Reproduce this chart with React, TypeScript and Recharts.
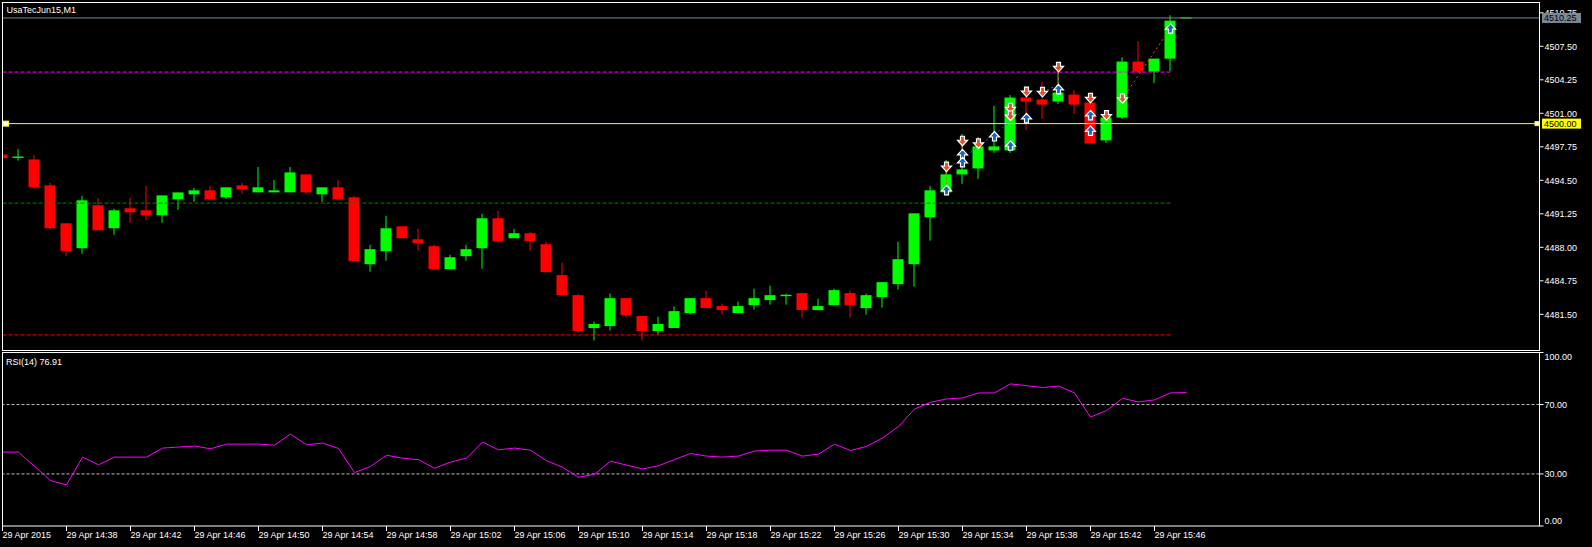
import React from 'react';
import { ComposedChart, Bar, Line, Scatter, XAxis, YAxis, ReferenceLine } from 'recharts';

// one candle per minute, 14:34 .. 15:48
const opens = [
  4496.96, 4496.72, 4496.48, 4493.96, 4490.28, 4487.96, 4492.03, 4489.90, 4491.74, 4491.54,
  4491.15, 4492.70, 4493.19, 4493.48, 4492.90, 4493.96, 4493.38, 4493.38, 4493.38, 4495.03,
  4493.19, 4493.77, 4492.80, 4486.41, 4487.67, 4489.99, 4488.73, 4488.06, 4485.93, 4487.19,
  4487.96, 4490.77, 4488.93, 4489.32, 4488.25, 4485.25, 4483.31, 4480.22, 4480.41, 4483.02,
  4481.28, 4479.93, 4480.22, 4481.67, 4483.02, 4482.25, 4481.67, 4482.44, 4482.93, 4483.31,
  4483.51, 4481.96, 4482.44, 4483.51, 4482.15, 4483.22, 4484.48, 4486.41, 4490.96, 4493.38,
  4495.12, 4495.70, 4497.45, 4497.45, 4502.48, 4502.29, 4502.19, 4502.77, 4502.00, 4498.42,
  4500.64, 4505.97, 4505.09, 4506.35, 4510.25,
];
const highs = [
  4497.00, 4497.54, 4496.96, 4494.25, 4490.28, 4492.99, 4492.80, 4491.74, 4492.80, 4493.96,
  4492.99, 4493.28, 4493.77, 4493.96, 4493.77, 4494.25, 4495.80, 4494.54, 4495.80, 4495.03,
  4493.77, 4494.54, 4492.99, 4488.25, 4491.06, 4489.99, 4489.80, 4488.25, 4487.28, 4488.25,
  4491.25, 4491.54, 4489.80, 4489.51, 4488.54, 4486.51, 4483.51, 4480.80, 4483.51, 4483.02,
  4481.28, 4481.28, 4482.25, 4483.02, 4483.80, 4482.54, 4482.73, 4483.99, 4484.28, 4483.51,
  4483.51, 4483.02, 4483.99, 4483.80, 4483.51, 4484.57, 4488.54, 4491.25, 4493.96, 4496.48,
  4499.00, 4498.71, 4501.71, 4502.77, 4503.35, 4504.03, 4505.09, 4503.26, 4502.58, 4501.22,
  4506.45, 4508.00, 4506.26, 4510.52, 4510.25,
];
const lows = [
  4496.70, 4496.41, 4493.67, 4489.70, 4487.19, 4487.38, 4489.70, 4489.22, 4490.38, 4490.67,
  4490.38, 4491.64, 4492.41, 4492.70, 4492.70, 4493.19, 4493.38, 4493.38, 4493.38, 4493.19,
  4492.41, 4492.70, 4486.70, 4485.64, 4486.70, 4488.93, 4487.67, 4485.93, 4485.93, 4486.70,
  4485.93, 4488.44, 4488.93, 4487.67, 4485.64, 4483.41, 4479.73, 4478.96, 4479.93, 4481.18,
  4478.96, 4479.54, 4480.22, 4481.47, 4482.15, 4481.47, 4481.67, 4481.96, 4482.44, 4482.44,
  4481.18, 4481.96, 4482.44, 4481.18, 4481.47, 4482.15, 4483.90, 4484.19, 4488.64, 4493.38,
  4494.16, 4494.64, 4497.16, 4497.16, 4499.38, 4500.45, 4501.90, 4500.93, 4498.12, 4498.12,
  4500.45, 4505.09, 4503.93, 4505.09, 4510.25,
];
const closes = [
  4496.70, 4496.76, 4493.87, 4489.90, 4487.67, 4492.51, 4489.70, 4491.54, 4491.45, 4491.15,
  4492.99, 4493.28, 4493.48, 4492.70, 4493.77, 4493.67, 4493.77, 4493.48, 4495.22, 4493.38,
  4493.77, 4492.70, 4486.70, 4487.77, 4489.80, 4488.93, 4488.44, 4485.93, 4486.99, 4487.77,
  4490.77, 4488.64, 4489.32, 4488.64, 4485.64, 4483.41, 4479.93, 4480.51, 4483.02, 4481.47,
  4479.93, 4480.51, 4481.76, 4483.02, 4482.15, 4481.96, 4482.25, 4483.02, 4483.31, 4483.35,
  4481.96, 4482.25, 4483.80, 4482.44, 4483.31, 4484.57, 4486.80, 4491.25, 4493.48, 4495.03,
  4495.51, 4497.74, 4497.74, 4502.48, 4502.19, 4501.90, 4502.97, 4501.90, 4498.12, 4500.55,
  4505.97, 4505.09, 4506.26, 4509.94, 4510.25,
];
const rsiValues = [
  42.6, 42.6, 34.4, 26.2, 23.7, 39.7, 35.3, 39.7, 39.7, 39.7,
  44.9, 45.5, 46.1, 44.5, 47.2, 47.2, 47.2, 46.6, 53.0, 46.8,
  47.8, 44.7, 30.8, 34.3, 40.8, 39.1, 38.2, 33.3, 36.8, 39.1,
  48.4, 43.9, 44.9, 43.7, 37.6, 33.9, 28.1, 29.8, 37.4, 35.1,
  32.9, 34.7, 38.3, 41.8, 40.3, 39.7, 40.3, 43.2, 43.7, 43.7,
  40.3, 41.4, 47.2, 43.5, 45.9, 50.7, 57.4, 67.4, 71.3, 73.2,
  73.8, 76.7, 76.7, 81.9, 80.9, 79.8, 80.7, 76.7, 62.8, 66.5,
  73.6, 71.5, 72.7, 76.7, 76.91,
];

const timeTicks = [0, 4, 8, 12, 16, 20, 24, 28, 32, 36, 40, 44, 48, 52, 56, 60, 64, 68, 72];
const timeLabels = [
  '29 Apr 2015', '29 Apr 14:38', '29 Apr 14:42', '29 Apr 14:46', '29 Apr 14:50', '29 Apr 14:54',
  '29 Apr 14:58', '29 Apr 15:02', '29 Apr 15:06', '29 Apr 15:10', '29 Apr 15:14', '29 Apr 15:18',
  '29 Apr 15:22', '29 Apr 15:26', '29 Apr 15:30', '29 Apr 15:34', '29 Apr 15:38', '29 Apr 15:42',
  '29 Apr 15:46',
];
const priceTicks = [4481.5, 4484.75, 4488, 4491.25, 4494.5, 4497.75, 4501, 4504.25, 4507.5, 4510.75];
const rsiTicks = [0, 30, 70, 100];
const rsiLevels = [30, 70];

const bidPrice = 4510.25;
const alertPrice = 4500.0;
const levelPrices = [4505.0, 4492.29, 4479.5];
const levelEnd = 73;

const sellArrows = [
  { i: 59, price: 4495.77 }, { i: 60, price: 4498.29 }, { i: 61, price: 4498.03 },
  { i: 63, price: 4501.48 }, { i: 63, price: 4500.74 }, { i: 64, price: 4503.06 },
  { i: 65, price: 4503.03 }, { i: 66, price: 4505.45 }, { i: 68, price: 4502.45 },
  { i: 69, price: 4500.77 }, { i: 70, price: 4502.41 },
];
const buyArrows = [
  { i: 59, price: 4493.58 }, { i: 60, price: 4497.06 }, { i: 60, price: 4496.29 },
  { i: 62, price: 4498.8 }, { i: 63, price: 4497.9 }, { i: 64, price: 4500.55 },
  { i: 66, price: 4503.38 }, { i: 68, price: 4500.84 }, { i: 68, price: 4499.35 },
  { i: 73, price: 4509.26 },
];
// [fromIndex, fromPrice, toIndex, toPrice]
const sellTradeLines = [
  [59, 4495.77, 59, 4493.58],
  [60, 4498.29, 60, 4497.06],
  [66, 4505.45, 66, 4503.38],
  [65, 4503.03, 66, 4503.8],
  [70, 4502.41, 73, 4509.26],
];
const buyTradeLines = [
  [60, 4496.6, 63, 4500.2],
  [68, 4500.3, 69, 4500.1],
];

const candles = opens.map((o, i) => ({
  i, open: o, high: highs[i], low: lows[i], close: closes[i], range: [lows[i], highs[i]],
}));
const rsiData = rsiValues.map((v, i) => ({ i, rsi: v }));
// price boxes are drawn as extra ticks after the regular ones, so they sit on top
const priceAxisTicks = [...priceTicks, bidPrice, alertPrice];

const W = 1592;
const H = 547;
const PLOT_LEFT = 2.5;
const PLOT_RIGHT = 1539.5;
const AXIS_W = W - PLOT_RIGHT;
const X_DOMAIN: [number, number] = [0, (PLOT_RIGHT - PLOT_LEFT) / 16];
const FONT = '"Liberation Sans", Arial, sans-serif';
const BULL = '#00ff00';
const BEAR = '#ff0000';
const LEVEL_COLORS = ['#ff00ff', '#008000', '#ff0000'];
const SELL = '#e8502a';
const BUY = '#1565c0';
const BID_COLOR = '#778899';
const ALERT_COLOR = '#ffff00';

const Candle = (props: any) => {
  const { x, y, width, height, payload } = props;
  if (x == null || payload == null) return null;
  const { open, high, low, close } = payload;
  const top = Math.min(y, y + height);
  const h = Math.abs(height);
  const span = high - low;
  const py = (v: number) => (span > 0 ? top + ((high - v) / span) * h : top);
  const color = close >= open ? BULL : BEAR;
  const cx = x + width / 2;
  const bTop = py(Math.max(open, close));
  const bBot = py(Math.min(open, close));
  const left = Math.max(x, PLOT_LEFT + 1);
  const right = x + width;
  if (right <= left) return null;
  return (
    <g>
      {h > 0 && <line x1={cx} x2={cx} y1={top} y2={top + h} stroke={color} strokeWidth={1} />}
      <rect x={left} y={bTop - 0.5} width={right - left} height={Math.max(bBot - bTop, 0) + 1} fill={color} />
    </g>
  );
};

const SellArrow = (props: any) => {
  const { cx, cy } = props;
  return (
    <path
      d={`M${cx - 2},${cy - 5} L${cx + 2},${cy - 5} L${cx + 2},${cy - 1} L${cx + 5},${cy - 1} L${cx},${cy + 4.5} L${cx - 5},${cy - 1} L${cx - 2},${cy - 1} Z`}
      fill={SELL}
      stroke="#fff"
      strokeWidth={1.2}
    />
  );
};

const BuyArrow = (props: any) => {
  const { cx, cy } = props;
  return (
    <path
      d={`M${cx - 2},${cy + 5} L${cx + 2},${cy + 5} L${cx + 2},${cy + 1} L${cx + 5},${cy + 1} L${cx},${cy - 4.5} L${cx - 5},${cy + 1} L${cx - 2},${cy + 1} Z`}
      fill={BUY}
      stroke="#fff"
      strokeWidth={1.2}
    />
  );
};

const LineEnds = (props: any) => {
  const { viewBox } = props;
  if (!viewBox) return null;
  const y = viewBox.y;
  const right = viewBox.x + viewBox.width;
  return (
    <g>
      <rect x={viewBox.x + 1} y={y - 2.5} width={5} height={5} fill="#fff" stroke={ALERT_COLOR} strokeWidth={1} />
      <rect x={right - 4.5} y={y - 2} width={4} height={4} fill="#fff" stroke={ALERT_COLOR} strokeWidth={1} />
    </g>
  );
};

const PriceTick = (props: any) => {
  const { x, y, payload } = props;
  const v = payload.value;
  const boxFill = v === bidPrice ? BID_COLOR : v === alertPrice ? ALERT_COLOR : null;
  if (boxFill) {
    return (
      <g>
        <rect x={x - 2.5} y={y - 5} width={39} height={10} fill={boxFill} />
        <text x={x - 0.5} y={y} dy={3.3} fill="#000" fontSize={9} fontFamily={FONT} textAnchor="start">
          {v.toFixed(2)}
        </text>
      </g>
    );
  }
  return (
    <g>
      <line x1={x - 5} x2={x - 1} y1={y} y2={y} stroke="#fff" strokeWidth={1} />
      <text x={x} y={y} dy={3.3} fill="#fff" fontSize={9} fontFamily={FONT} textAnchor="start">
        {v.toFixed(2)}
      </text>
    </g>
  );
};

const RsiTick = (props: any) => {
  const { x, y, payload } = props;
  const shift = payload.value === 100 ? 4 : payload.value === 0 ? -5 : 0;
  return (
    <text x={x} y={y + shift} dy={3.3} fill="#fff" fontSize={9} fontFamily={FONT} textAnchor="start">
      {payload.value.toFixed(2)}
    </text>
  );
};

const TimeTick = (props: any) => {
  const { x, y, payload } = props;
  const k = timeTicks.indexOf(payload.value);
  return (
    <text x={x} y={y} dy={7} fill="#fff" fontSize={9} fontFamily={FONT} textAnchor="start">
      {timeLabels[k]}
    </text>
  );
};

const App: React.FC = () => {
  return (
    <div style={{ position: 'fixed', left: 0, top: 0, width: W, height: H, background: '#000', overflow: 'hidden' }}>
      <div style={{ position: 'absolute', left: 0, top: 0 }}>
        <ComposedChart width={W} height={351} data={candles} margin={{ top: 2.5, right: 0, bottom: 0.5, left: PLOT_LEFT }}>
          <XAxis dataKey="i" type="number" domain={X_DOMAIN} allowDataOverflow hide />
          <YAxis
            orientation="right"
            width={AXIS_W}
            type="number"
            domain={[4477.99, 4511.75]}
            allowDataOverflow
            ticks={priceAxisTicks}
            interval={0}
            axisLine={false}
            tickLine={false}
            tickSize={4}
            tickMargin={1}
            tick={<PriceTick />}
          />
          {levelPrices.map((p, k) => (
            <ReferenceLine
              key={`lvl-${k}`}
              segment={[{ x: 0, y: p }, { x: levelEnd, y: p }]}
              stroke={LEVEL_COLORS[k]}
              strokeDasharray="4 2"
              strokeWidth={1}
            />
          ))}
          <ReferenceLine y={bidPrice} stroke={BID_COLOR} strokeWidth={1} />
          <ReferenceLine y={alertPrice} stroke={ALERT_COLOR} strokeWidth={1} label={<LineEnds />} />
          <Bar dataKey="range" barSize={11} shape={<Candle />} isAnimationActive={false} />
          {sellTradeLines.map((s, k) => (
            <ReferenceLine
              key={`st-${k}`}
              segment={[{ x: s[0], y: s[1] }, { x: s[2], y: s[3] }]}
              stroke={SELL}
              strokeDasharray="2 3"
            />
          ))}
          {buyTradeLines.map((s, k) => (
            <ReferenceLine
              key={`bt-${k}`}
              segment={[{ x: s[0], y: s[1] }, { x: s[2], y: s[3] }]}
              stroke={BUY}
              strokeDasharray="2 3"
            />
          ))}
          <Scatter data={sellArrows} dataKey="price" shape={<SellArrow />} isAnimationActive={false} />
          <Scatter data={buyArrows} dataKey="price" shape={<BuyArrow />} isAnimationActive={false} />
        </ComposedChart>
      </div>

      <div style={{ position: 'absolute', left: 0, top: 340 }}>
        <ComposedChart width={W} height={207} data={rsiData} margin={{ top: 12.5, right: 0, bottom: 0, left: PLOT_LEFT }}>
          <XAxis
            dataKey="i"
            type="number"
            domain={X_DOMAIN}
            allowDataOverflow
            ticks={timeTicks}
            interval={0}
            height={21}
            axisLine={false}
            tickLine={{ stroke: '#fff' }}
            tickSize={5}
            tickMargin={0}
            tick={<TimeTick />}
          />
          <YAxis
            orientation="right"
            width={AXIS_W}
            type="number"
            domain={[0, 100]}
            ticks={rsiTicks}
            interval={0}
            axisLine={false}
            tickLine={{ stroke: '#fff' }}
            tickSize={4}
            tickMargin={1}
            tick={<RsiTick />}
          />
          {rsiLevels.map((v) => (
            <ReferenceLine key={`rl-${v}`} y={v} stroke="#c0c0c0" strokeDasharray="3 2" strokeWidth={1} />
          ))}
          <Line dataKey="rsi" stroke="#ff00ff" strokeWidth={1} dot={false} isAnimationActive={false} />
        </ComposedChart>
      </div>

      <svg width={W} height={H} style={{ position: 'absolute', left: 0, top: 0, pointerEvents: 'none' }}>
        <rect x={PLOT_LEFT} y={2.5} width={PLOT_RIGHT - PLOT_LEFT} height={348} fill="none" stroke="#fff" strokeWidth={1} />
        <rect x={PLOT_LEFT} y={352.5} width={PLOT_RIGHT - PLOT_LEFT} height={173.5} fill="none" stroke="#fff" strokeWidth={1} />
        <text x={6.5} y={13} fill="#fff" fontSize={9} fontFamily={FONT}>UsaTecJun15,M1</text>
        <text x={6} y={365} fill="#fff" fontSize={9} fontFamily={FONT}>RSI(14) 76.91</text>
      </svg>
    </div>
  );
};

export default App;
